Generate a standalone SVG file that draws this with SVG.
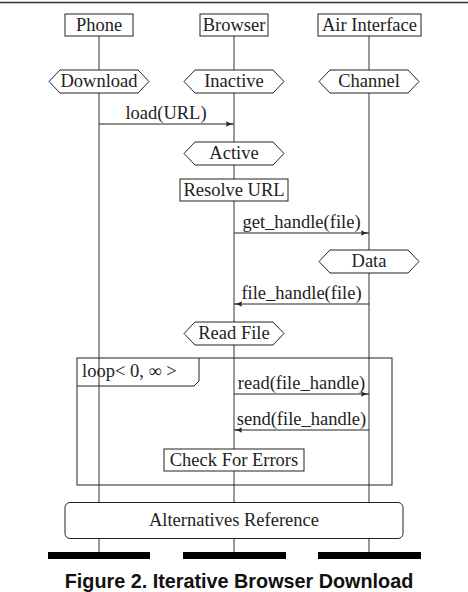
<svg xmlns="http://www.w3.org/2000/svg" width="468" height="592" viewBox="0 0 468 592">
<style>
.t{font-family:"Liberation Serif","DejaVu Serif",serif;font-size:18.5px;fill:#222;text-anchor:middle}
.box{fill:#fff;stroke:#222;stroke-width:1}
.life{stroke:#555;stroke-width:1.2;fill:none}
.msg{stroke:#222;stroke-width:1;fill:none}
.bar{fill:#000}
</style>
<defs>
<marker id="ah" viewBox="0 0 8 6" refX="8" refY="3" markerWidth="8" markerHeight="6" markerUnits="userSpaceOnUse" orient="auto">
<path d="M0,0.3 Q3,2.4 8,3 Q3,3.6 0,5.7 Q1.5,3 0,0.3Z" fill="#222"/>
</marker>
</defs>
<rect width="468" height="592" fill="#fff"/>
<line x1="0" y1="2.5" x2="468" y2="2.5" stroke="#333" stroke-width="1.5"/>
<g id="lifelines">
<line class="life" x1="99" y1="36" x2="99" y2="552"/>
<line class="life" x1="234" y1="36" x2="234" y2="552"/>
<line class="life" x1="369" y1="36" x2="369" y2="552"/>
</g>
<g id="phone"><rect class="box" x="65" y="14" width="68" height="22"/><text class="t" x="99" y="30.5">Phone</text></g>
<g id="browser"><rect class="box" x="200" y="14" width="68" height="22"/><text class="t" x="234" y="30.5">Browser</text></g>
<g id="air"><rect class="box" x="318" y="14" width="103" height="22"/><text class="t" x="369.5" y="30.5">Air Interface</text></g>
<g id="download"><polygon class="box" points="49,81.5 60,70 138,70 149,81.5 138,93 60,93"/><text class="t" x="99" y="87">Download</text></g>
<g id="inactive"><polygon class="box" points="184,81.5 195,70 273,70 284,81.5 273,93 195,93"/><text class="t" x="234" y="87">Inactive</text></g>
<g id="channel"><polygon class="box" points="319,81.5 330,70 408,70 419,81.5 408,93 330,93"/><text class="t" x="369" y="87">Channel</text></g>
<g id="active"><polygon class="box" points="184,153.5 195,142 273,142 284,153.5 273,165 195,165"/><text class="t" x="234" y="159">Active</text></g>
<g id="resolve"><rect class="box" x="180" y="179" width="108" height="22"/><text class="t" x="234" y="195.5">Resolve URL</text></g>
<g id="data"><polygon class="box" points="319,261.5 330,250 408,250 419,261.5 408,273 330,273"/><text class="t" x="369" y="267">Data</text></g>
<g id="readfile"><polygon class="box" points="184,333.5 195,322 273,322 284,333.5 273,345 195,345"/><text class="t" x="234" y="339">Read File</text></g>
<g id="loop">
<rect x="77" y="358" width="315" height="127" fill="none" stroke="#222" stroke-width="1"/>
<path d="M77,386 L194,386 L199,381 L199,358" fill="none" stroke="#222" stroke-width="1"/>
<text class="t" x="82" y="377" style="text-anchor:start">loop&lt; 0, ∞ &gt;</text>
</g>
<g id="checkerrors"><rect class="box" x="164" y="449" width="140" height="22"/><text class="t" x="234" y="465.5">Check For Errors</text></g>
<g id="altref"><rect class="box" x="65" y="502.5" width="338" height="36" rx="5" ry="5"/><text class="t" x="234" y="526">Alternatives Reference</text></g>
<g id="connectors">
<line class="msg" x1="99" y1="124" x2="234" y2="124" marker-end="url(#ah)"/>
<text class="t" x="166" y="118.5">load(URL)</text>
<line class="msg" x1="234" y1="233" x2="369" y2="233" marker-end="url(#ah)"/>
<text class="t" x="301.5" y="227.5">get_handle(file)</text>
<line class="msg" x1="369" y1="304" x2="234" y2="304" marker-end="url(#ah)"/>
<text class="t" x="301.5" y="298.5">file_handle(file)</text>
<line class="msg" x1="234" y1="394" x2="369" y2="394" marker-end="url(#ah)"/>
<text class="t" x="301.5" y="388.5">read(file_handle)</text>
<line class="msg" x1="369" y1="430" x2="234" y2="430" marker-end="url(#ah)"/>
<text class="t" x="301.5" y="424.5">send(file_handle)</text>
</g>
<g id="bars">
<rect class="bar" x="48" y="552" width="102" height="7"/>
<rect class="bar" x="183" y="552" width="103" height="7"/>
<rect class="bar" x="318" y="552" width="103" height="7"/>
</g>
<text x="239" y="588" style="font-family:'Liberation Sans',Arial,sans-serif;font-weight:bold;font-size:19.8px;text-anchor:middle;fill:#111">Figure 2. Iterative Browser Download</text>
</svg>
